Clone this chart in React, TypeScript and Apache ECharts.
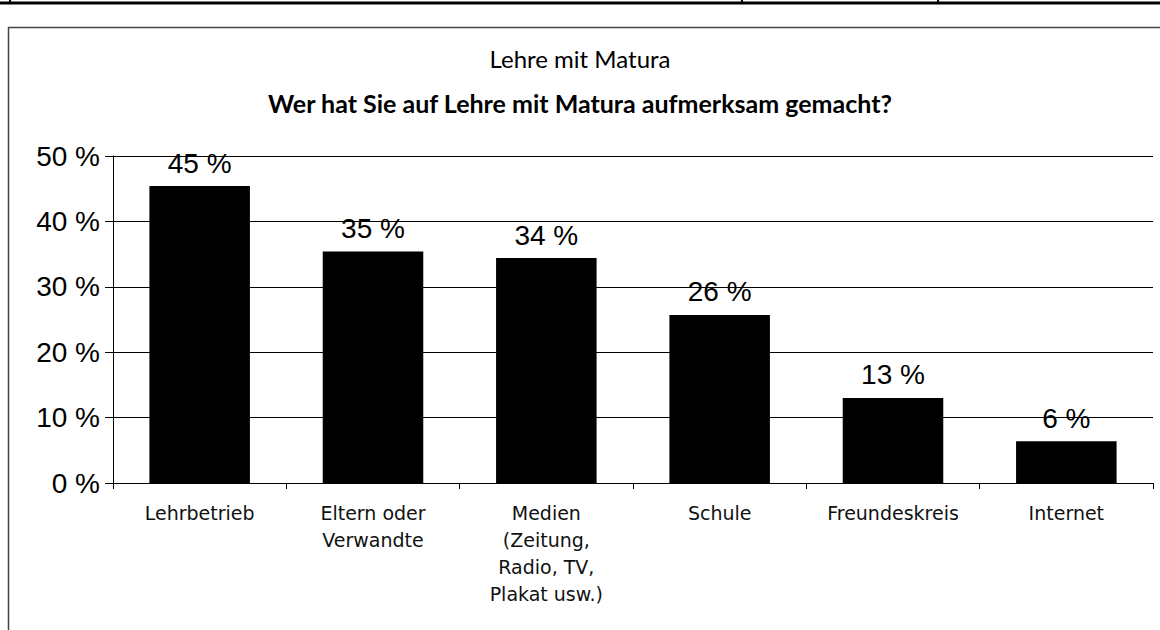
import React, { useEffect, useRef } from "react";
import * as echarts from "echarts";

const categories = [
  "Lehrbetrieb",
  "Eltern oder\nVerwandte",
  "Medien\n(Zeitung,\nRadio, TV,\nPlakat usw.)",
  "Schule",
  "Freundeskreis",
  "Internet",
];
const values = [45.4, 35.4, 34.4, 25.7, 13.0, 6.4];
const yTicks = [0, 10, 20, 30, 40, 50];
const titleMain = "Lehre mit Matura";
const titleSub = "Wer hat Sie auf Lehre mit Matura aufmerksam gemacht?";

export default function App() {
  const ref = useRef<HTMLDivElement>(null);
  useEffect(() => {
    if (!ref.current) return;
    const chart = echarts.init(ref.current, null, { renderer: "svg" });
    chart.setOption({
      animation: false,
      backgroundColor: "#fff",
      title: [
        {
          text: titleMain,
          left: "center",
          top: 41,
          textStyle: { fontFamily: "Lato", fontWeight: "normal", fontSize: 24, color: "#000" },
        },
        {
          text: titleSub,
          left: "center",
          top: 85,
          textStyle: { fontFamily: "Lato", fontWeight: "bold", fontSize: 25, color: "#000" },
        },
      ],
      graphic: [
        { type: "line", shape: { x1: 0, y1: 3, x2: 1160, y2: 3 }, style: { stroke: "#000", lineWidth: 3 } },
        { type: "line", shape: { x1: 10, y1: 0, x2: 10, y2: 4 }, style: { stroke: "#000", lineWidth: 2 } },
        { type: "line", shape: { x1: 742, y1: 0, x2: 742, y2: 4 }, style: { stroke: "#000", lineWidth: 2 } },
        { type: "line", shape: { x1: 938, y1: 0, x2: 938, y2: 4 }, style: { stroke: "#000", lineWidth: 2 } },
        {
          type: "rect",
          shape: { x: 8.5, y: 27.5, width: 1200, height: 700 },
          style: { fill: "none", stroke: "#444", lineWidth: 1.5 },
        },
      ],
      grid: { left: 113, right: 7, top: 156, bottom: 147 },
      xAxis: {
        type: "category",
        data: categories,
        axisLine: { lineStyle: { color: "#000", width: 1 } },
        axisTick: { show: true, length: 6, lineStyle: { color: "#000" } },
        axisLabel: {
          interval: 0,
          fontFamily: "DejaVu Sans",
          fontSize: 19,
          lineHeight: 27,
          color: "#111",
          margin: 16,
        },
      },
      yAxis: {
        type: "value",
        min: yTicks[0],
        max: yTicks[yTicks.length - 1],
        interval: 10,
        axisLine: { show: true, lineStyle: { color: "#000", width: 1 } },
        axisTick: { show: true, length: 8, lineStyle: { color: "#000" } },
        splitLine: { lineStyle: { color: "#000", width: 1 } },
        axisLabel: {
          formatter: "{value} %",
          fontFamily: "Liberation Sans",
          fontSize: 28,
          color: "#000",
          margin: 13,
        },
      },
      series: [
        {
          type: "bar",
          data: values,
          barWidth: "58%",
          itemStyle: { color: "#000" },
          label: {
            show: true,
            position: "top",
            distance: 9,
            formatter: (p: any) => Math.round(p.value) + " %",
            fontFamily: "Liberation Sans",
            fontSize: 28,
            lineHeight: 28,
            color: "#000",
          },
        },
      ],
    });
    return () => chart.dispose();
  }, []);
  return (
    <div
      ref={ref}
      style={{ position: "fixed", left: 0, top: 0, width: 1160, height: 630 }}
    />
  );
}
